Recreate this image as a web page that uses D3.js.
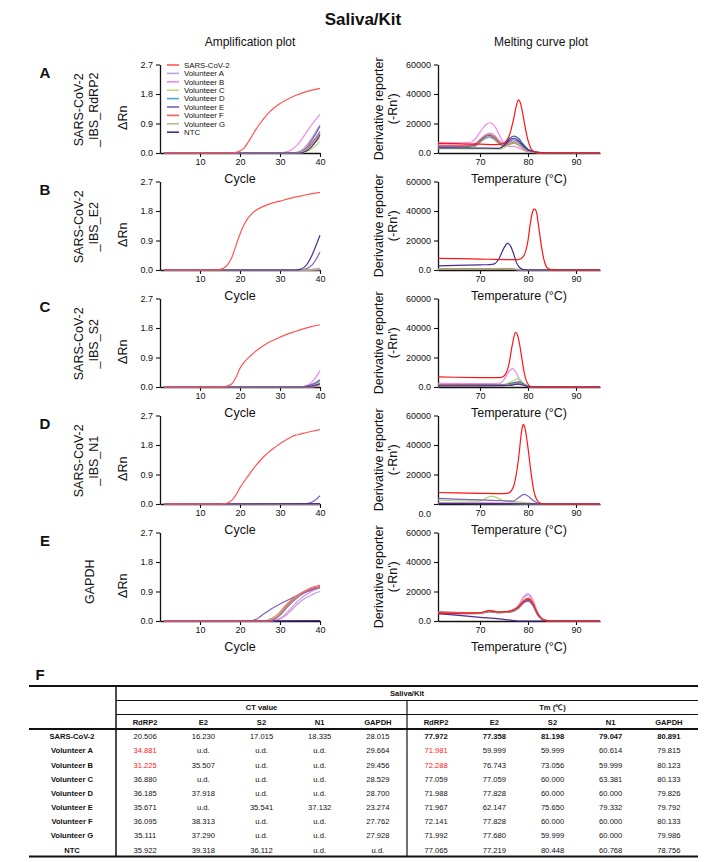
<!DOCTYPE html>
<html>
<head>
<meta charset="utf-8">
<script src="https://cdn.jsdelivr.net/npm/d3@7"></script>
<style>
  html, body { margin: 0; padding: 0; background: #fff; }
  svg { display: block; font-family: "Liberation Sans", Arial, sans-serif; }
</style>
</head>
<body>
<svg id="chart" width="726" height="862"></svg>
<script>
// ---------------- DATA ----------------
const seriesNames = ["SARS-CoV-2","Volunteer A","Volunteer B","Volunteer C","Volunteer D","Volunteer E","Volunteer F","Volunteer G","NTC"];
const ampColors  = ["#ff5555","#b7a2de","#ee88ee","#b6e07a","#4fa6c8","#7b5fb8","#f2625c","#a9c48f","#4b2b8e"];
const meltColors = ["#ff1414","#b7a2de","#ee88ee","#a8d870","#2f64a8","#7b5fb8","#f2625c","#94b87a","#4b2b8e"];
const panelLetters = ["A","B","C","D","E"];
const targetLabels = [["SARS-CoV-2","_IBS_RdRP2"],["SARS-CoV-2","_IBS_E2"],["SARS-CoV-2","_IBS_S2"],["SARS-CoV-2","_IBS_N1"],["GAPDH"]];
const ampYTicks = [0, 0.9, 1.8, 2.7];
const ampXTicks = [10, 20, 30, 40];
const meltYTicks = [0, 20000, 40000, 60000];
const meltXTicks = [70, 80, 90];

// Amplification curves: [cycle, ΔRn], series in seriesNames order
const ampRdRP2 = [
  [[1,0],[18,0],[19,0.02],[20,0.06],[21,0.15],[22,0.32],[23,0.52],[24,0.72],[25,0.9],[26,1.06],[27,1.2],[28,1.32],[29,1.42],[30,1.51],[32,1.65],[34,1.76],[36,1.85],[38,1.92],[40,1.97]],
  [[1,0],[33,0],[34,0.02],[35,0.06],[36,0.15],[37,0.29],[38,0.46],[39,0.66],[40,0.86]],
  [[1,0],[30,0],[31,0.02],[32,0.05],[33,0.11],[34,0.21],[35,0.35],[36,0.52],[37,0.7],[38,0.87],[39,1.03],[40,1.17]],
  [[1,0],[35,0],[36,0.02],[37,0.06],[38,0.13],[39,0.23],[40,0.36]],
  [[1,0],[34,0],[35,0.02],[36,0.07],[37,0.17],[38,0.31],[39,0.48],[40,0.66]],
  [[1,0],[34,0],[35,0.03],[36,0.1],[37,0.22],[38,0.4],[39,0.6],[40,0.82]],
  [[1,0],[34,0],[35,0.02],[36,0.07],[37,0.16],[38,0.29],[39,0.44],[40,0.6]],
  [[1,0],[34,0],[35,0.02],[36,0.06],[37,0.13],[38,0.23],[39,0.34],[40,0.46]],
  [[1,0],[35,0],[36,0.03],[37,0.09],[38,0.2],[39,0.36],[40,0.55]]
];
const ampE2 = [
  [[1,0],[14,0],[15,0.02],[16,0.06],[17,0.18],[18,0.4],[19,0.75],[20,1.1],[21,1.38],[22,1.58],[23,1.72],[24,1.82],[26,1.95],[28,2.04],[30,2.1],[32,2.17],[34,2.23],[36,2.28],[38,2.33],[40,2.37]],
  [[1,0],[40,0.01]],
  [[1,0],[36,0],[38,0.02],[40,0.05]],
  [[1,0],[40,0.01]],
  [[1,0],[37,0],[40,0.03]],
  [[1,0],[35,0],[36,0.02],[37,0.06],[38,0.15],[39,0.32],[40,0.55]],
  [[1,0],[38,0],[40,0.02]],
  [[1,0],[37,0],[40,0.03]],
  [[1,0],[34,0],[35,0.02],[36,0.08],[37,0.22],[38,0.45],[39,0.75],[40,1.06]]
];
const ampS2 = [
  [[1,0],[15,0],[16,0.01],[17,0.04],[18,0.1],[19,0.3],[20,0.57],[21,0.75],[22,0.88],[23,0.99],[24,1.1],[25,1.19],[26,1.27],[27,1.35],[28,1.41],[30,1.52],[32,1.62],[34,1.7],[36,1.78],[38,1.85],[40,1.9]],
  [[1,0],[38,0],[40,0.03]],
  [[1,0],[35,0],[36,0.02],[37,0.06],[38,0.15],[39,0.3],[40,0.5]],
  [[1,0],[36,0],[38,0.04],[40,0.16]],
  [[1,0],[36,0],[38,0.05],[40,0.2]],
  [[1,0],[35,0],[37,0.04],[38,0.08],[39,0.14],[40,0.22]],
  [[1,0],[37,0],[40,0.08]],
  [[1,0],[36,0],[38,0.03],[40,0.12]],
  [[1,0],[36,0],[38,0.03],[40,0.1]]
];
const ampN1 = [
  [[1,0],[15,0],[16,0.01],[17,0.04],[18,0.12],[19,0.28],[20,0.5],[21,0.68],[22,0.85],[23,1.02],[24,1.18],[25,1.32],[26,1.45],[27,1.56],[28,1.66],[29,1.75],[30,1.84],[31,1.92],[32,1.99],[33,2.06],[34,2.1],[35,2.13],[36,2.16],[38,2.22],[40,2.27]],
  [[1,0],[40,0.01]],
  [[1,0],[40,0.01]],
  [[1,0],[40,0.01]],
  [[1,0],[40,0.01]],
  [[1,0],[36,0],[37,0.02],[38,0.06],[39,0.14],[40,0.25]],
  [[1,0],[40,0.01]],
  [[1,0],[40,0.01]],
  [[1,0],[40,0.01]]
];
const ampGAPDH = [
  [[1,0],[27,0],[28,0.03],[29,0.1],[30,0.21],[31,0.35],[32,0.49],[33,0.61],[34,0.72],[35,0.81],[36,0.88],[37,0.94],[38,0.99],[39,1.03],[40,1.06]],
  [[1,0],[28,0],[29,0.02],[30,0.06],[31,0.13],[32,0.23],[33,0.35],[34,0.47],[35,0.58],[36,0.67],[37,0.74],[38,0.8],[39,0.86],[40,0.9]],
  [[1,0],[28,0],[29,0.03],[30,0.08],[31,0.17],[32,0.29],[33,0.42],[34,0.55],[35,0.66],[36,0.76],[37,0.84],[38,0.91],[39,0.97],[40,1.01]],
  [[1,0],[27,0],[28,0.03],[29,0.09],[30,0.19],[31,0.32],[32,0.46],[33,0.58],[34,0.69],[35,0.78],[36,0.86],[37,0.92],[38,0.97],[39,1.01],[40,1.04]],
  [[1,0],[27,0],[28,0.02],[29,0.08],[30,0.17],[31,0.3],[32,0.44],[33,0.56],[34,0.67],[35,0.77],[36,0.85],[37,0.91],[38,0.96],[39,1.0],[40,1.03]],
  [[1,0],[22,0],[23,0.01],[24,0.05],[25,0.13],[26,0.22],[27,0.3],[28,0.38],[29,0.45],[30,0.52],[32,0.64],[34,0.76],[36,0.86],[38,0.95],[40,1.02]],
  [[1,0],[26,0],[27,0.03],[28,0.08],[29,0.16],[30,0.28],[31,0.42],[32,0.55],[33,0.66],[34,0.76],[35,0.84],[36,0.91],[37,0.97],[38,1.02],[39,1.06],[40,1.09]],
  [[1,0],[26,0],[27,0.02],[28,0.07],[29,0.15],[30,0.26],[31,0.39],[32,0.52],[33,0.63],[34,0.73],[35,0.82],[36,0.89],[37,0.95],[38,1.0],[39,1.03],[40,1.05]],
  [[1,0],[40,0.01]]
];

// Melting curves: [temperature °C, derivative reporter], series in seriesNames order
const meltRdRP2 = [
  [[61.3,6500],[65,6300],[70,6000],[73,5700],[74,5800],[75,6800],[76,11000],[77,23000],[77.5,31000],[78,36000],[78.5,33000],[79,25000],[79.5,16000],[80,8500],[80.5,3800],[81,1500],[82,300],[83,0],[95,0]],
  [[61.3,5500],[65,5400],[68,5600],[69,6500],[70,9000],[71,12000],[72,13500],[73,12000],[74,8500],[75,6000],[76,7000],[77,8000],[78,6500],[79,3500],[80,1500],[82,400],[84,0],[95,0]],
  [[61.3,7000],[65,6800],[68,7300],[69,9500],[70,14000],[71,18500],[72,20500],[73,18500],[74,12500],[75,6500],[76,4500],[77,4500],[78,3500],[79,2000],[80,800],[82,200],[84,0],[95,0]],
  [[61.3,3000],[70,2800],[74,2600],[75,3500],[76,6000],[77,7500],[78,6000],[79,3500],[80,1500],[82,300],[85,0],[95,0]],
  [[61.3,4000],[66,4000],[69,5000],[70,8000],[71,11000],[72,12000],[73,10500],[74,7000],[75,6000],[76,9500],[77,11500],[78,10000],[79,6000],[80,2500],[81,1000],[83,200],[85,0],[95,0]],
  [[61.3,4500],[66,4500],[69,5500],[70,7500],[71,10000],[72,11000],[73,9500],[74,6500],[75,5000],[76,7500],[77,9000],[78,7500],[79,4500],[80,2000],[82,400],[84,0],[95,0]],
  [[61.3,5000],[66,5000],[69,6000],[70,9000],[71,11500],[72,12500],[73,11000],[74,7500],[75,5500],[76,6000],[77,7000],[78,5500],[79,3000],[80,1200],[82,300],[84,0],[95,0]],
  [[61.3,3500],[66,3600],[69,4500],[70,7000],[71,9500],[72,10500],[73,9000],[74,6000],[75,4500],[76,5500],[77,6500],[78,5500],[79,3000],[80,1200],[82,300],[84,0],[95,0]],
  [[61.3,3500],[70,3300],[74,3200],[75,5000],[76,8500],[77,10000],[78,8500],[79,5000],[80,2000],[82,400],[85,0],[95,0]]
];
const meltE2 = [
  [[61.3,7900],[65,7700],[70,7400],[75,7100],[78,7000],[79,9000],[80,20000],[80.5,32000],[81,40000],[81.3,41500],[81.7,40000],[82.2,30000],[82.8,16000],[83.4,6000],[84,1500],[84.8,200],[86,0],[95,0]],
  [[61.3,500],[75,600],[78,300],[80,0],[95,0]],
  [[61.3,700],[72,800],[75,1000],[77,600],[79,100],[80,0],[95,0]],
  [[61.3,600],[72,700],[75,1100],[77,500],[79,100],[80,0],[95,0]],
  [[61.3,400],[75,500],[78,200],[80,0],[95,0]],
  [[61.3,500],[75,700],[78,300],[80,0],[95,0]],
  [[61.3,400],[75,500],[78,200],[80,0],[95,0]],
  [[61.3,600],[72,700],[75,900],[77,500],[79,100],[80,0],[95,0]],
  [[61.3,2800],[65,3200],[70,3500],[72,3700],[73,4200],[74,8000],[75,15000],[75.7,18000],[76.4,16000],[77,11000],[77.6,5000],[78.3,1500],[79,300],[80,0],[95,0]]
];
const meltS2 = [
  [[61.3,6800],[65,6600],[70,6400],[74,6300],[75,7500],[76,15000],[76.7,28000],[77.4,37000],[78,33000],[78.6,22000],[79.2,10000],[79.8,3000],[80.5,500],[81.5,0],[95,0]],
  [[61.3,1500],[70,1500],[75,1400],[77,2200],[78,2800],[79,1800],[80,500],[81,0],[95,0]],
  [[61.3,2500],[70,2300],[74,2500],[75,5000],[76,10500],[76.8,12500],[77.5,10000],[78.2,5000],[79,1500],[80,300],[81,0],[95,0]],
  [[61.3,1800],[70,1700],[75,1800],[76.5,3500],[77.8,5500],[78.6,4500],[79.4,1500],[80.5,200],[81.5,0],[95,0]],
  [[61.3,1700],[70,1600],[75,1500],[77,2800],[78,3500],[79,2200],[80,600],[81,0],[95,0]],
  [[61.3,1200],[70,1200],[75,1300],[77,2500],[78,3000],[79,1800],[80,400],[81,0],[95,0]],
  [[61.3,1400],[70,1300],[75,1200],[77,1800],[78,2300],[79,1400],[80,400],[81,0],[95,0]],
  [[61.3,1000],[70,1000],[75,1100],[77,2000],[78,2600],[79,1500],[80,400],[81,0],[95,0]],
  [[61.3,800],[70,800],[75,900],[77,1500],[78,2000],[79,1200],[80,300],[81,0],[95,0]]
];
const meltN1 = [
  [[61.3,7800],[65,7500],[70,7200],[75,7000],[76,7500],[77,12000],[78,30000],[78.7,50000],[79,54000],[79.4,51000],[80,38000],[80.6,22000],[81.2,9000],[81.8,3000],[82.5,700],[83.5,0],[95,0]],
  [[61.3,500],[75,400],[80,200],[83,0],[95,0]],
  [[61.3,600],[75,500],[80,300],[83,0],[95,0]],
  [[61.3,2600],[65,2200],[70,2000],[71,3500],[72.5,5400],[74,3500],[75,2000],[77,1500],[79,1200],[81,500],[83,0],[95,0]],
  [[61.3,400],[75,300],[80,200],[83,0],[95,0]],
  [[61.3,3800],[65,3300],[70,2800],[75,2200],[77,2000],[78,4200],[79.2,6500],[80,5500],[81,2500],[82,700],[83,0],[95,0]],
  [[61.3,500],[75,400],[80,200],[83,0],[95,0]],
  [[61.3,400],[75,300],[80,200],[83,0],[95,0]],
  [[61.3,300],[75,300],[80,150],[83,0],[95,0]]
];
const meltGAPDH = [
  [[61.3,5500],[65,5200],[70,5500],[72,7000],[74,6000],[76,6500],[78,9500],[79,13000],[80,15000],[81,12000],[82,5000],[83,1200],[84,200],[85,0],[95,0]],
  [[61.3,5000],[65,4800],[70,5000],[72,6200],[74,5500],[76,6000],[78,10000],[79,15500],[80,17500],[81,13500],[82,5500],[83,1300],[84,200],[85,0],[95,0]],
  [[61.3,5200],[65,5000],[70,5200],[72,6500],[74,5800],[76,6200],[78,10500],[79,16000],[80,18500],[81,14500],[82,6000],[83,1500],[84,200],[85,0],[95,0]],
  [[61.3,6000],[65,5600],[70,5600],[72,6800],[74,6000],[76,6400],[78,9500],[79,13500],[80,15500],[81,12500],[82,5000],[83,1200],[84,200],[85,0],[95,0]],
  [[61.3,5600],[65,5300],[70,5300],[72,6400],[74,5700],[76,6000],[78,9000],[79,12500],[80,14000],[81,11000],[82,4500],[83,1000],[84,200],[85,0],[95,0]],
  [[61.3,6200],[65,5800],[70,5500],[72,6600],[74,5800],[76,6000],[78,8500],[79,12000],[80,13500],[81,10500],[82,4200],[83,1000],[84,200],[85,0],[95,0]],
  [[61.3,5800],[65,5500],[70,5600],[72,7000],[74,6100],[76,6500],[78,9800],[79,13500],[80,15500],[81,12300],[82,5000],[83,1200],[84,200],[85,0],[95,0]],
  [[61.3,5400],[65,5100],[70,5300],[72,6600],[74,5800],[76,6200],[78,9200],[79,13000],[80,14800],[81,11800],[82,4800],[83,1100],[84,200],[85,0],[95,0]],
  [[61.3,5000],[65,4000],[70,2500],[74,1500],[76,700],[77,300],[78,0],[95,0]]
];

const ampPanels = [ampRdRP2, ampE2, ampS2, ampN1, ampGAPDH];
const meltPanels = [meltRdRP2, meltE2, meltS2, meltN1, meltGAPDH];

// Table
const tableGenes = ["RdRP2","E2","S2","N1","GAPDH"];
const tableRows = seriesNames;
const ctValues = [
  ["20.506","16.230","17.015","18.335","28.015"],
  ["34.881","u.d.","u.d.","u.d.","29.664"],
  ["31.225","35.507","u.d.","u.d.","29.456"],
  ["36.880","u.d.","u.d.","u.d.","28.529"],
  ["36.185","37.918","u.d.","u.d.","28.700"],
  ["35.671","u.d.","35.541","37.132","23.274"],
  ["36.095","38.313","u.d.","u.d.","27.762"],
  ["35.111","37.290","u.d.","u.d.","27.928"],
  ["35.922","39.318","36.112","u.d.","u.d."]
];
const tmValues = [
  ["77.972","77.358","81.198","79.047","80.891"],
  ["71.981","59.999","59.999","60.614","79.815"],
  ["72.288","76.743","73.056","59.999","80.123"],
  ["77.059","77.059","60.000","63.381","80.133"],
  ["71.988","77.828","60.000","60.000","79.826"],
  ["71.967","62.147","75.650","79.332","79.792"],
  ["72.141","77.828","60.000","60.000","80.133"],
  ["71.992","77.680","59.999","60.000","79.986"],
  ["77.065","77.219","80.448","60.768","78.756"]
];
const redCells = [[1,0],[2,0]]; // [row, gene] highlighted in red in both CT and Tm

// ---------------- DRAW ----------------
const svg = d3.select("#chart");
const textColor = "#111";

svg.append("text").attr("x", 363).attr("y", 25).attr("text-anchor","middle")
  .attr("font-size", 17).attr("font-weight","bold").attr("fill", textColor).text("Saliva/Kit");
svg.append("text").attr("x", 250).attr("y", 46).attr("text-anchor","middle")
  .attr("font-size", 12).attr("fill", textColor).text("Amplification plot");
svg.append("text").attr("x", 541).attr("y", 46).attr("text-anchor","middle")
  .attr("font-size", 12).attr("fill", textColor).text("Melting curve plot");

const rowBottom0 = 153, rowStep = 117, plotH = 88.5;
const ampX = d3.scaleLinear().domain([0, 40]).range([160, 320]);
const meltX = d3.scaleLinear().domain([61.25, 95]).range([438, 600]);

function styleAxis(g) {
  g.selectAll("path.domain").attr("stroke", "#111").attr("stroke-width", 1.3);
  g.selectAll(".tick line").attr("stroke", "#111").attr("stroke-width", 1.1);
  g.selectAll(".tick text").attr("fill", textColor).attr("font-size", 9)
    .attr("font-family", "'Liberation Sans', Arial, sans-serif");
}

panelLetters.forEach((letter, i) => {
  const y0 = rowBottom0 + i * rowStep;
  const y1 = y0 - plotH;
  const mid = (y0 + y1) / 2;

  svg.append("text").attr("x", 45).attr("y", y1 + 13).attr("text-anchor","middle")
    .attr("font-size", 15).attr("font-weight","bold").attr("fill", textColor).text(letter);

  const lines = targetLabels[i];
  const lx = lines.length === 2 ? [79, 94] : [90];
  lines.forEach((t, j) => {
    svg.append("text")
      .attr("transform", `translate(${lx[j] + 4},${mid + (lines.length === 1 ? 5 : 1)}) rotate(-90)`)
      .attr("text-anchor","middle").attr("font-size", 12.5).attr("fill", textColor).text(t);
  });

  // ---- amplification ----
  const ay = d3.scaleLinear().domain([0, 2.7]).range([y0, y1]);
  const gAx = svg.append("g").attr("transform", `translate(0,${y0})`)
    .call(d3.axisBottom(ampX).tickValues(ampXTicks).tickSize(4).tickSizeOuter(0).tickPadding(2));
  styleAxis(gAx);
  const gAy = svg.append("g").attr("transform", `translate(160,0)`)
    .call(d3.axisLeft(ay).tickValues(ampYTicks).tickFormat(d3.format(".1f")).tickSize(4).tickSizeOuter(0).tickPadding(3));
  styleAxis(gAy);

  svg.append("text").attr("x", 240).attr("y", y0 + 30).attr("text-anchor","middle")
    .attr("font-size", 12.5).attr("fill", textColor).text("Cycle");
  svg.append("text").attr("transform", `translate(127,${mid + 9}) rotate(-90)`)
    .attr("text-anchor","middle").attr("font-size", 12.5).attr("fill", textColor).text("ΔRn");

  const aLine = d3.line().x(d => ampX(d[0])).y(d => ay(d[1])).curve(d3.curveMonotoneX);
  const order = [1,2,3,4,5,6,7,8,0];
  order.forEach(k => {
    svg.append("path").datum(ampPanels[i][k]).attr("d", aLine)
      .attr("fill","none").attr("stroke", ampColors[k]).attr("stroke-width", 1.2);
  });

  // ---- melting ----
  const my = d3.scaleLinear().domain([0, 60000]).range([y0, y1]);
  const gMx = svg.append("g").attr("transform", `translate(0,${y0})`)
    .call(d3.axisBottom(meltX).tickValues(meltXTicks).tickSize(4).tickSizeOuter(0).tickPadding(2));
  styleAxis(gMx);
  const gMy = svg.append("g").attr("transform", `translate(438,0)`)
    .call(d3.axisLeft(my).tickValues(meltYTicks).tickFormat(d => d === 0 ? "0.0" : d3.format("d")(d))
      .tickSize(4).tickSizeOuter(0).tickPadding(3));
  styleAxis(gMy);
  if (i === 3) {
    gMy.selectAll(".tick text").filter(d => d === 0).attr("dy", "1.35em");
  }

  svg.append("text").attr("x", 519).attr("y", y0 + 30).attr("text-anchor","middle")
    .attr("font-size", 12.5).attr("fill", textColor).text("Temperature (°C)");
  svg.append("text").attr("transform", `translate(383,${mid}) rotate(-90)`)
    .attr("text-anchor","middle").attr("font-size", 12.5).attr("fill", textColor).text("Derivative reporter");
  svg.append("text").attr("transform", `translate(397,${mid}) rotate(-90)`)
    .attr("text-anchor","middle").attr("font-size", 12.5).attr("fill", textColor).text("(-Rn')");

  const mLine = d3.line().x(d => meltX(d[0])).y(d => my(d[1])).curve(d3.curveMonotoneX);
  order.forEach(k => {
    svg.append("path").datum(meltPanels[i][k]).attr("d", mLine)
      .attr("fill","none").attr("stroke", meltColors[k]).attr("stroke-width", 1.2);
  });
});

// legend in panel A amplification
const legend = svg.append("g");
seriesNames.forEach((name, k) => {
  const ly = 65 + k * 8.4;
  legend.append("line").attr("x1", 167).attr("x2", 179).attr("y1", ly).attr("y2", ly)
    .attr("stroke", ampColors[k]).attr("stroke-width", 1.6);
  legend.append("text").attr("x", 184).attr("y", ly).attr("dy", "0.35em")
    .attr("font-size", 7.8).attr("fill", textColor).text(name);
});

// ---------------- TABLE ----------------
svg.append("text").attr("x", 40).attr("y", 680).attr("text-anchor","middle")
  .attr("font-size", 15).attr("font-weight","bold").attr("fill", textColor).text("F");

const tLeft = 29, tRight = 698, tDiv1 = 116, tDiv2 = 407;
const tTop = 686, tL1 = 700.5, tL2 = 714.5, tL3 = 729, tBottom = 856.5;
const rowY = d3.scalePoint().domain(tableRows).range([736.5, 850]);
const ctX = d3.scaleBand().domain(tableGenes).range([tDiv1, tDiv2]);
const tmX = d3.scaleBand().domain(tableGenes).range([tDiv2, tRight]);
const tfont = 7.6;
const tg = svg.append("g").attr("font-size", tfont).attr("fill", textColor);

function hline(y, x1, x2, w) {
  tg.append("line").attr("x1", x1).attr("x2", x2).attr("y1", y).attr("y2", y)
    .attr("stroke", "#111").attr("stroke-width", w);
}
function vline(x, y1, y2, w) {
  tg.append("line").attr("x1", x).attr("x2", x).attr("y1", y1).attr("y2", y2)
    .attr("stroke", "#111").attr("stroke-width", w);
}
hline(tTop, tLeft, tRight, 1.8);
hline(tL1, tDiv1, tRight, 1.1);
hline(tL2, tDiv1, tRight, 1.1);
hline(tL3, tLeft, tRight, 1.8);
hline(tBottom, tLeft, tRight, 1.8);
vline(tDiv1, tTop, tBottom, 1.5);
vline(tDiv2, tL1, tBottom, 1.2);

function ttext(x, y, t, opts = {}) {
  tg.append("text").attr("x", x).attr("y", y).attr("dy", "0.35em").attr("text-anchor", "middle")
    .attr("font-weight", opts.bold ? "bold" : "normal")
    .attr("fill", opts.color || textColor).text(t);
}
ttext((tDiv1 + tRight) / 2, 693.5, "Saliva/Kit", {bold: true});
ttext((tDiv1 + tDiv2) / 2, 707.5, "CT value", {bold: true});
ttext((tDiv2 + tRight) / 2, 707.5, "Tm (℃)", {bold: true});
tableGenes.forEach(g => {
  ttext(ctX(g) + ctX.bandwidth() / 2, 722, g, {bold: true});
  ttext(tmX(g) + tmX.bandwidth() / 2, 722, g, {bold: true});
});
tableRows.forEach((r, ri) => {
  const y = rowY(r);
  ttext(72, y, r, {bold: true});
  tableGenes.forEach((g, gi) => {
    const isRed = redCells.some(c => c[0] === ri && c[1] === gi);
    ttext(ctX(g) + ctX.bandwidth() / 2, y, ctValues[ri][gi], {color: isRed ? "#ff2020" : null});
    ttext(tmX(g) + tmX.bandwidth() / 2, y, tmValues[ri][gi], {color: isRed ? "#ff2020" : null, bold: ri === 0});
  });
});
</script>
</body>
</html>
